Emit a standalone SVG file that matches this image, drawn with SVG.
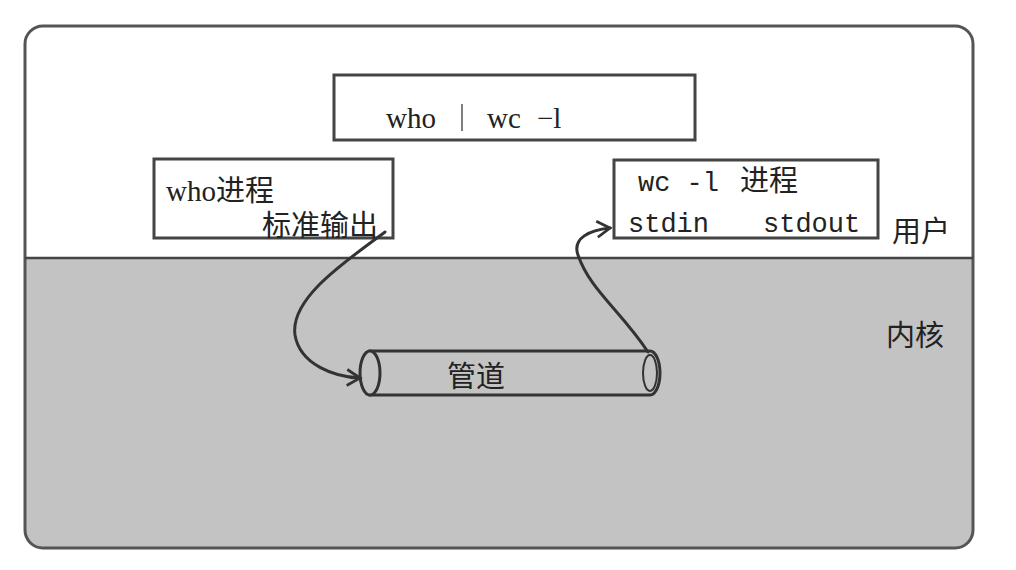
<svg xmlns="http://www.w3.org/2000/svg" width="1016" height="570" viewBox="0 0 1016 570">
<style>
.box{fill:#fff;stroke:#444;stroke-width:3}
.serif{font-family:"Liberation Serif","Noto Sans CJK SC",serif;font-size:29px;fill:#222}
.mono{font-family:"Liberation Mono","Noto Sans CJK SC",monospace;font-size:27px;fill:#222}
.cjk{font-family:"Noto Sans CJK SC",sans-serif;font-size:29px;fill:#222}
.conn{fill:none;stroke:#333;stroke-width:3;stroke-linecap:round}
</style>
<defs>
<marker id="ah" markerWidth="20" markerHeight="20" refX="15" refY="10" orient="auto" markerUnits="userSpaceOnUse">
<path d="M2,2 L15,10 L2,18" fill="none" stroke="#333" stroke-width="2.8"/>
</marker>
</defs>
<rect width="1016" height="570" fill="#fff"/>
<g id="frame">
<path d="M25,258 V530 Q25,548 43,548 H955 Q973,548 973,530 V258 Z" fill="#c3c3c3"/>
<rect x="25" y="26" width="948" height="522" rx="18" fill="none" stroke="#555" stroke-width="3"/>
<line x1="25" y1="258" x2="973" y2="258" stroke="#444" stroke-width="2.5"/>
<text class="cjk" x="892" y="242">用户</text>
<text class="cjk" x="886" y="346">内核</text>
</g>
<g id="cmd">
<rect class="box" x="334" y="75" width="361" height="65"/>
<text class="serif" x="386" y="128">who</text>
<line x1="462" y1="104" x2="462" y2="131" stroke="#555" stroke-width="1.5"/>
<text class="serif" x="487" y="128">wc</text>
<text class="serif" x="537" y="128">−l</text>
</g>
<g id="who">
<rect class="box" x="154" y="159" width="239" height="79"/>
<text class="serif" x="166" y="201">who<tspan class="cjk" font-size="31">进程</tspan></text>
<text class="cjk" x="262" y="236" font-size="31">标准输出</text>
</g>
<g id="wc">
<rect class="box" x="614" y="160" width="264" height="78"/>
<text class="mono" x="638" y="191">wc -l</text>
<text class="cjk" x="740" y="191" font-size="30">进程</text>
<text class="mono" x="628" y="232">stdin</text>
<text class="mono" x="763" y="232">stdout</text>
</g>
<g id="pipe">
<path d="M370,351 H650 A10,22 0 0 1 650,395 H370 Z" fill="#c3c3c3" stroke="#333" stroke-width="3"/>
<ellipse cx="370" cy="373" rx="10" ry="22" fill="#c3c3c3" stroke="#333" stroke-width="3"/>
<ellipse cx="650" cy="373" rx="7" ry="18" fill="none" stroke="#333" stroke-width="2"/>
<text class="cjk" x="447" y="387" font-size="31">管道</text>
</g>
<g id="connectors">
<path class="conn" d="M385,232 C340,265 290,300 295,335 C300,365 335,377 360,378" marker-end="url(#ah)"/>
<path class="conn" d="M648,352 C620,310 590,290 578,255 C572,238 590,230 610,228" marker-end="url(#ah)"/>
</g>
</svg>
